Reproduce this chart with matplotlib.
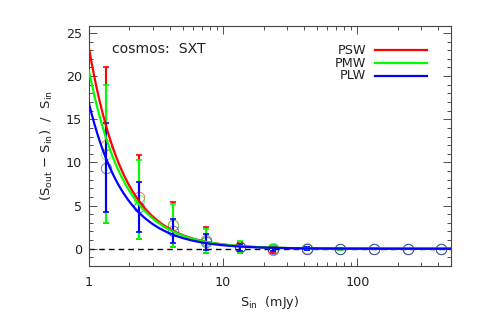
import numpy as np
import matplotlib
matplotlib.use("Agg")
import matplotlib.pyplot as plt
from matplotlib.ticker import MultipleLocator, LogLocator, FixedLocator, NullFormatter

plt.rcParams['font.family'] = ['DejaVu Sans']

# ---- data ----
s_in = [1.33, 2.37, 4.22, 7.5, 13.3, 23.7, 42.2, 75.0, 133.0, 237.0, 422.0]
bands = ["PSW", "PMW", "PLW"]
colors = ["#ff0000", "#00ff00", "#0000ff"]

psw_val = [12.0, 6.0, 2.8, 1.0, 0.15, -0.1, 0.0, 0.0, 0.0, 0.0, 0.0]
psw_err = [9.0, 4.9, 2.6, 1.5, 0.6, 0.35, 0.2, 0.1, 0.05, 0.0, 0.0]
pmw_val = [11.0, 5.7, 2.7, 0.9, 0.2, 0.05, 0.05, 0.0, 0.0, 0.0, 0.0]
pmw_err = [8.0, 4.6, 2.5, 1.4, 0.7, 0.35, 0.2, 0.1, 0.05, 0.0, 0.0]
plw_val = [9.4, 4.8, 2.1, 0.8, 0.15, 0.0, 0.0, 0.0, 0.0, 0.0, 0.0]
plw_err = [5.2, 2.9, 1.4, 0.9, 0.4, 0.25, 0.15, 0.05, 0.0, 0.0, 0.0]

# power-law fit curves: A * S_in^(-index)
fit_amp = [23.2, 20.6, 16.8]
fit_index = [1.67, 1.62, 1.62]

values = [psw_val, pmw_val, plw_val]
errors = [psw_err, pmw_err, plw_err]

xlim = (1.0, 500.0)
ylim = (-2.0, 25.8)

fs = 9.2
tc = '#222222'

fig = plt.figure(figsize=(4.78, 3.19), dpi=100)
ax = fig.add_axes([89/478, (319-266)/319, (451-89)/478, (266-26)/319])
ax.set_xscale('log')
ax.set_xlim(*xlim)
ax.set_ylim(*ylim)

ax.plot(xlim, [0, 0], ls=(0, (4, 3)), color='black', lw=1.0, zorder=1)

xs = np.logspace(np.log10(xlim[0]), np.log10(xlim[1]), 400)
for i in range(3):
    ax.errorbar(s_in, values[i], yerr=errors[i], fmt='none', ecolor=colors[i],
                elinewidth=1.5, capsize=2.5, capthick=1.2, zorder=3 + i)
    ax.plot(s_in, values[i], 'o', mfc='none', mec=colors[i], mew=0.6, ms=7.5,
            alpha=0.65, zorder=2)
for i in range(3):
    ax.plot(xs, fit_amp[i] * xs ** (-fit_index[i]), color=colors[i], lw=1.6,
            zorder=6 + i, label=bands[i])

ax.yaxis.set_major_locator(MultipleLocator(5))
ax.yaxis.set_minor_locator(MultipleLocator(1))
ax.xaxis.set_major_locator(FixedLocator([1, 10, 100]))
ax.xaxis.set_minor_locator(LogLocator(base=10, subs=np.arange(2, 10)))
ax.xaxis.set_minor_formatter(NullFormatter())
ax.set_xticklabels(["1", "10", "100"])

ax.tick_params(which='both', direction='in', top=True, right=True,
               labelsize=fs, colors='#333333', labelcolor=tc)
ax.tick_params(which='major', length=6, width=0.6)
ax.tick_params(which='minor', length=3, width=0.6)
ax.tick_params(axis='x', pad=7)
ax.tick_params(axis='y', pad=5)
for sp in ax.spines.values():
    sp.set_linewidth(0.8)
    sp.set_color('#444444')

ax.set_xlabel(r"S$_{\rm in}$  (mJy)", fontsize=fs, color=tc, labelpad=4)
ax.set_ylabel(r"(S$_{\rm out}$ $-$ S$_{\rm in}$)  /  S$_{\rm in}$", fontsize=fs + 0.3,
              color=tc, labelpad=8)

ax.text(0.063, 0.905, "cosmos:  SXT", transform=ax.transAxes, fontsize=fs + 0.9,
        color=tc, va='center', ha='left')

# legend
ys_leg = [0.9, 0.845, 0.793]
for i in range(3):
    ax.text(0.765, ys_leg[i], bands[i], transform=ax.transAxes, fontsize=fs,
            ha='right', va='center', color=tc)
    ax.plot([0.79, 0.935], [ys_leg[i], ys_leg[i]], transform=ax.transAxes,
            color=colors[i], lw=1.6, zorder=10)

fig.savefig("out.png", dpi=100)
